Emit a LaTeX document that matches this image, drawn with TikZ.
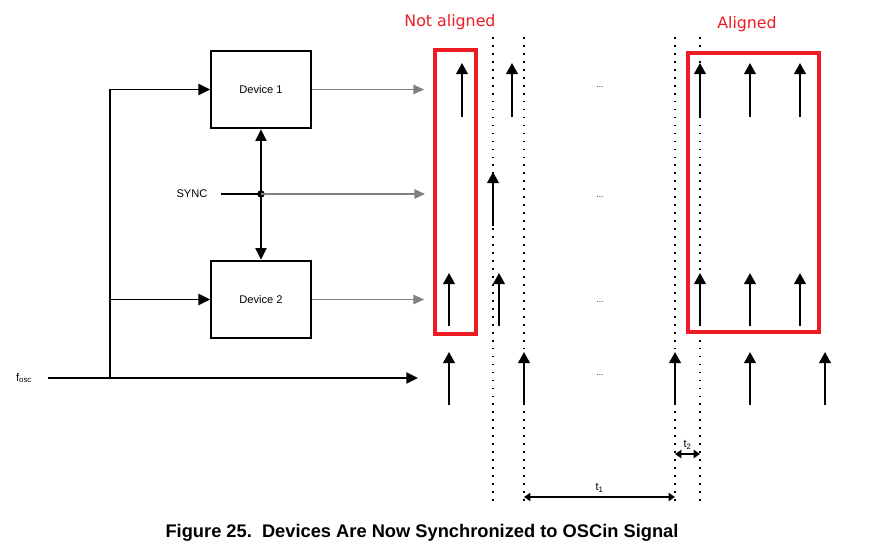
\documentclass[tikz,border=0pt]{standalone}
\usepackage{fontspec}
\setmainfont{Liberation Sans}
\newfontfamily\notefont{DejaVu Sans}
\usetikzlibrary{arrows.meta}
\definecolor{markred}{RGB}{237,28,36}
\definecolor{outgray}{RGB}{128,128,128}

\begin{document}
\begin{tikzpicture}[x=0.03cm,y=-0.03cm,
                device/.style={draw,line width=1.5pt,minimum width=3cm,minimum height=2.33cm,font=\fontsize{9.5}{11}\selectfont},
                sig/.style={line width=1.5pt,-{Triangle[length=10pt,width=9.5pt]}},
                tap/.style={outgray,line width=1.2pt,-{Triangle[length=9pt,width=8pt]}},
                pulse/.style={line width=1.6pt,-{Triangle[length=9.5pt,width=10pt]}},
                span/.style={line width=1.5pt,{Triangle[length=5.5pt,width=7pt]}-{Triangle[length=5.5pt,width=7pt]}},
                grid/.style={line width=1.6pt,dash pattern=on 1.5pt off 5.3pt},
                frame/.style={markred,line width=3.4pt},
                note/.style={markred,font=\notefont\fontsize{13.5}{16}\selectfont},
                small/.style={font=\fontsize{9.5}{11}\selectfont}
                ]
                \useasboundingbox (0,0) rectangle (873,557);
                % blocks
                \node [device] (dev1) at (261,89.5) {Device 1};
                \node [device] (dev2) at (261,299.5) {Device 2};
                \node [small] (sync) at (192,194) {SYNC};
                \node [small] (fosc) at (24,378) {f\textsubscript{osc}};
                \coordinate (syncin) at (221,194);
                \coordinate (junc) at (261,194);
                \coordinate (oscin) at (48,378);
                \coordinate (split) at (110,378);
                \coordinate (oscout) at (418,378);
                \draw [sig] (oscin) -- (oscout);
                \draw [sig] (split) |- (dev1.west);
                \draw [sig] (split |- dev2.west) -- (dev2.west);
                \draw [line width=1.5pt] (syncin) -- (junc);
                \fill (junc) circle [radius=3.2pt];
                \draw [sig] (junc) -- (dev1.south);
                \draw [sig] (junc) -- (dev2.north);
                \draw [tap] (dev1.east) -- (424,89.5);
                \draw [tap] (junc) -- (425,194);
                \draw [tap] (dev2.east) -- (424,299.5);
                % timing
                \foreach \x in {493,524,675,700} \draw [grid] (\x,37) -- (\x,504);
                \draw [frame] (435,50) rectangle (476,334);
                \draw [frame] (688,53) rectangle (819,332);
                \foreach \x in {462,512,700,750,800} \draw [pulse] (\x,117) -- (\x,63);
                \draw [pulse] (493,226) -- (493,172);
                \foreach \x in {449,499,700,750,800} \draw [pulse] (\x,326) -- (\x,273);
                \foreach \x in {449,524,675,750,825} \draw [pulse] (\x,405) -- (\x,352);
                \foreach \y in {87,197,302,375} \node [font=\scriptsize] (gap\y) at (600,\y) {...};
                \draw [span] (524,497) -- (675,497) node [midway,above,small] (t1) {t\textsubscript{1}};
                \draw [span] (675,454) -- (700,454) node [midway,above,small] (t2) {t\textsubscript{2}};
                \node [note] (notal) at (450,22) {Not aligned};
                \node [note] (al) at (747,24) {Aligned};
                \node [font=\bfseries\fontsize{15.6}{18}\selectfont] (cap) at (422,533) {Figure 25.\ \ Devices Are Now Synchronized to OSCin Signal};
            \end{tikzpicture}
\end{document}
